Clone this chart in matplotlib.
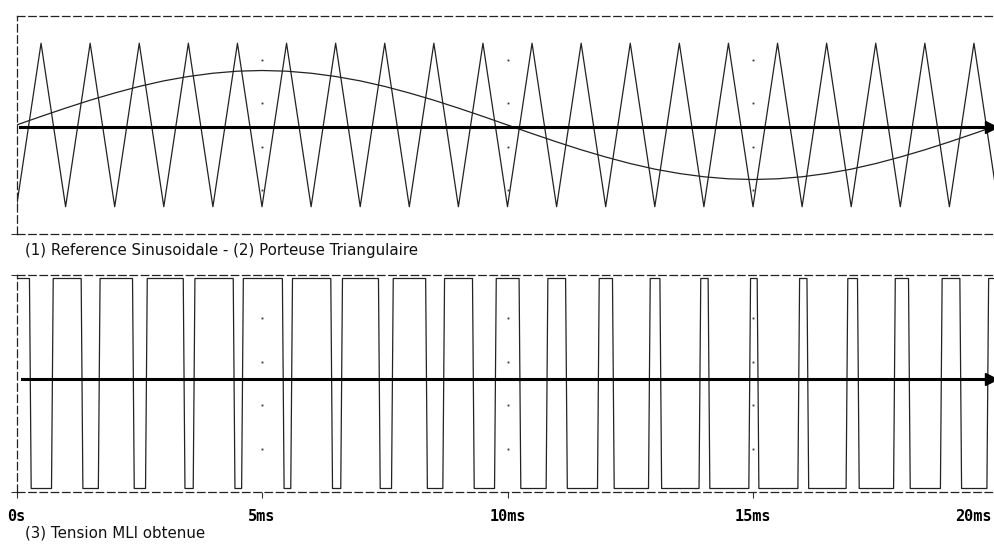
from matplotlib import pyplot as plt
from matplotlib.transforms import ScaledTranslation

# time axis in ms
tri_times = [0, 0.5, 1, 1.5, 2, 2.5, 3, 3.5, 4, 4.5, 5, 5.5, 6, 6.5, 7, 7.5, 8, 8.5, 9, 9.5, 10,
             10.5, 11, 11.5, 12, 12.5, 13, 13.5, 14, 14.5, 15, 15.5, 16, 16.5, 17, 17.5, 18, 18.5, 19, 19.5, 20]
tri_values = [-6, 6, -6, 6, -6, 6, -6, 6, -6, 6, -6, 6, -6, 6, -6, 6, -6, 6, -6, 6, -6,
              6, -6, 6, -6, 6, -6, 6, -6, 6, -6, 6, -6, 6, -6, 6, -6, 6, -6, 6, -6]

sin_times = tri_times
sin_values = [0, 0.63, 1.24, 1.82, 2.35, 2.83, 3.24, 3.56, 3.80, 3.95, 4.00, 3.95, 3.80, 3.56, 3.24, 2.83, 2.35, 1.82, 1.24, 0.63, 0,
              -0.63, -1.24, -1.82, -2.35, -2.83, -3.24, -3.56, -3.80, -3.95, -4.00, -3.95, -3.80, -3.56, -3.24, -2.83, -2.35, -1.82, -1.24, -0.63, 0]

# switching instants of the PWM output (ms), starts high
pwm_edges = [0.264, 0.713, 1.317, 1.667, 2.363, 2.628, 3.396, 3.599, 4.414, 4.585,
             5.415, 5.586, 6.401, 6.604, 7.372, 7.638, 8.333, 8.683, 9.287, 9.736,
             10.236, 10.787, 11.183, 11.833, 12.138, 12.872, 13.104, 13.901, 14.086, 14.915,
             15.085, 15.914, 16.099, 16.896, 17.128, 17.863, 18.167, 18.817, 19.213, 19.764]
pwm_high, pwm_low = 15, -15

xticks = [0, 5, 10, 15, 20]
xtick_labels = ["0s", "5ms", "10ms", "15ms", "20ms"]
grid_top = [-4.8, -1.6, 1.6, 4.8]
grid_bot = [-9.3, -3.1, 3.1, 9.3]

line_col = "#222222"
dash = (0, (6, 3))

fig = plt.figure(figsize=(9.94, 5.45), dpi=100)
W, H = 994, 545
x0, x1 = 16.5, 998.5
ax1 = fig.add_axes([x0 / W, (H - 234) / H, (x1 - x0) / W, 218 / H])
ax2 = fig.add_axes([x0 / W, (H - 492) / H, (x1 - x0) / W, 217 / H])

# top: reference sine + carrier triangle
ax1.plot(tri_times, tri_values, color=line_col, lw=0.9)
ax1.plot(sin_times, sin_values, color=line_col, lw=0.9)
ax1.set_ylim(-8, 8)

# bottom: PWM output
px, py = [0], [pwm_high]
level = pwm_high
slew = 0.035
for e in pwm_edges:
    other = pwm_low if level == pwm_high else pwm_high
    px += [e, e + slew]
    py += [level, other]
    level = other
px.append(20)
py.append(level)
ax2.plot(px, py, color=line_col, lw=0.9)
ax2.set_ylim(-15.5, 15.5)

for ax, gy, axis_y in [(ax1, grid_top, -0.15), (ax2, grid_bot, 0.6)]:
    ax.set_xlim(0, 20)
    for s in ax.spines.values():
        s.set_linestyle(dash)
        s.set_linewidth(0.9)
        s.set_color("#222222")
    # grid dots
    for gx in xticks[1:4]:
        ax.plot([gx] * len(gy), gy, ls="none", marker="s", ms=1.3, mew=0, color="#333333")
    # bold axis line with arrow
    tr = ax.get_yaxis_transform()
    start = 0.004 if ax is ax1 else 0.006
    ax.plot([start, 0.99], [axis_y, axis_y], color="black", lw=2.2, transform=tr, clip_on=False)
    ax.plot([0.9925], [axis_y], marker=">", ms=9, color="black", transform=tr, clip_on=False)

ax1.set_xticks([])
ax1.set_yticks([-8])
ax1.set_yticklabels([])
ax1.tick_params(axis="y", length=4, width=0.8, color="#333333")

ax2.set_yticks([-15.5, 15.5])
ax2.set_yticklabels([])
ax2.tick_params(axis="y", length=4, width=0.8, color="#333333")
ax2.set_xticks(xticks)
ax2.set_xticklabels(xtick_labels, fontfamily="DejaVu Sans Mono", fontweight="bold", fontsize=11)
ax2.tick_params(axis="x", length=4, width=0.8, pad=8, color="#333333")

last = ax2.get_xticklabels()[-1]
last.set_transform(last.get_transform() + ScaledTranslation(-0.25, 0, fig.dpi_scale_trans))

fig.text(25 / W, 1 - 250 / H, "(1) Reference Sinusoidale - (2) Porteuse Triangulaire",
         fontsize=10.8, va="center", ha="left", color="#111111")
fig.text(25 / W, 1 - 533 / H, "(3) Tension MLI obtenue",
         fontsize=10.8, va="center", ha="left", color="#111111")

fig.savefig("out.png", dpi=100)
